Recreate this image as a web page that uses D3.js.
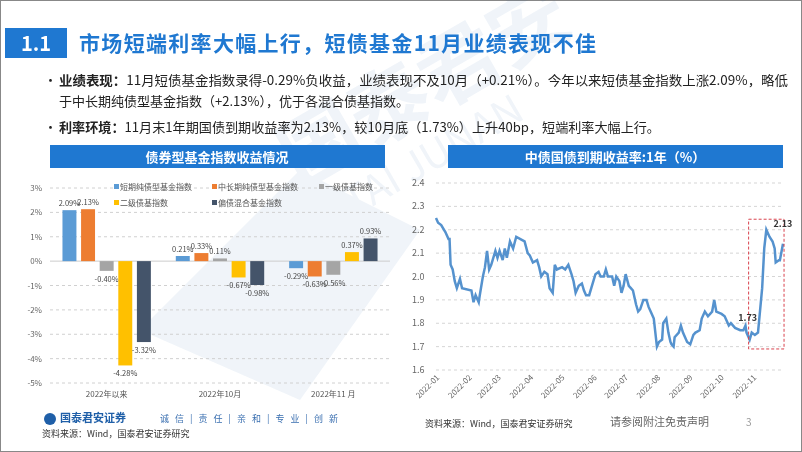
<!DOCTYPE html>
<html><head><meta charset="utf-8">
<script src="https://cdn.jsdelivr.net/npm/d3@7"></script>
<style>body{margin:0;background:#fff}svg{display:block;font-family:"Noto Sans CJK SC","Noto Sans",sans-serif}</style>
</head><body><svg id="c" width="802" height="452"></svg>
<script>
// ---- data ----
const barCategories = ["2022年以来","2022年10月","2022年11 月"];
const barSeries = ["短期纯债型基金指数","中长期纯债型基金指数","一级债基指数","二级债基指数","偏债混合基金指数"];
const barColors = ["#5B9BD5","#ED7D31","#A5A5A5","#FFC000","#44546A"];
const valShort = [2.09, 0.21, -0.29];
const valMidLong = [2.13, 0.33, -0.63];
const valFirst = [-0.40, 0.11, -0.56];
const valSecond = [-4.28, -0.67, 0.37];
const valMixed = [-3.32, -0.98, 0.93];
const barTicks = [3,2,1,0,-1,-2,-3,-4,-5];
const yieldDays = [0,2,5,9,12,13,14,16,18,20,23,25,34,36,38,41,42,45,47,49,51,53,57,59,61,64,66,68,71,74,77,81,85,88,90,93,97,99,101,104,107,109,112,114,116,121,124,127,130,132,134,137,140,142,144,147,149,153,156,158,161,163,165,169,171,173,176,178,180,182,185,187,189,192,194,196,199,202,204,206,209,212,214,217,218,221,223,225,226,228,229,233,235,237,241,244,247,249,253,255,258,261,265,267,269,274,277,281,283,287,292,295,297,298,301,303,306,309,313,315,317,320,323,325,326,329,330,333];
const yieldVals = [2.25,2.23,2.22,2.19,2.16,2.16,2.05,2.03,1.98,1.95,1.99,1.95,1.94,1.89,1.92,1.89,1.92,2.00,2.04,2.11,2.03,2.05,2.11,2.08,2.11,2.07,2.12,2.08,2.15,2.12,2.17,2.16,2.15,2.10,2.09,2.06,2.07,2.04,2.00,2.02,2.01,1.95,1.93,2.05,2.03,2.04,2.03,2.05,2.01,1.98,1.93,1.96,1.97,1.94,1.92,1.92,1.95,2.01,2.02,2.00,2.00,2.03,2.00,2.00,1.96,2.00,1.98,1.93,1.96,2.01,1.96,1.95,1.94,1.88,1.85,1.86,1.90,1.90,1.87,1.85,1.82,1.70,1.72,1.73,1.80,1.82,1.76,1.72,1.71,1.70,1.74,1.76,1.79,1.76,1.72,1.71,1.75,1.76,1.77,1.82,1.85,1.83,1.85,1.90,1.85,1.84,1.83,1.79,1.80,1.78,1.77,1.77,1.79,1.76,1.73,1.76,1.75,1.76,1.95,2.12,2.20,2.17,2.15,2.12,2.06,2.07,2.07,2.14];
const yieldTicks = [1.6,1.7,1.8,1.9,2.0,2.1,2.2,2.3,2.4];
const monthLabels = ["2022-01","2022-02","2022-03","2022-04","2022-05","2022-06","2022-07","2022-08","2022-09","2022-10","2022-11"];

const svg = d3.select("#c");
const blue = "#1F78D1";
svg.append("rect").attr("x",0.5).attr("y",0.5).attr("width",801).attr("height",451).attr("fill","#fff").attr("stroke","#888");
const wm = svg.append("g").attr("opacity",0.07).attr("fill","#1F5FA8");
wm.append("path").attr("d","M140,330 L300,170 L420,230 L300,400 Z");
wm.append("text").attr("x",300).attr("y",190).attr("font-size",80).attr("font-weight","bold").attr("transform","rotate(-30,300,190)").text("国泰君安");
wm.append("text").attr("x",280).attr("y",260).attr("font-size",40).attr("transform","rotate(-30,280,260)").text("GUOTAI JUNAN");

// header
svg.append("rect").attr("x",5).attr("y",28).attr("width",62).attr("height",30).attr("fill",blue);
svg.append("text").attr("x",36).attr("y",51).attr("text-anchor","middle").attr("fill","#fff").attr("font-size",20).attr("font-weight","bold").text("1.1");
svg.append("text").attr("x",79).attr("y",51).attr("fill",blue).attr("font-size",21).attr("font-weight","bold").attr("textLength",517).text("市场短端利率大幅上行，短债基金11月业绩表现不佳");
const bl = [
 {y:85,b:"业绩表现：",t:"11月短债基金指数录得-0.29%负收益，业绩表现不及10月（+0.21%）。今年以来短债基金指数上涨2.09%，略低",dot:true,len:729},
 {y:106,b:"",t:"于中长期纯债型基金指数（+2.13%），优于各混合债基指数。",dot:false,len:350},
 {y:132,b:"利率环境：",t:"11月末1年期国债到期收益率为2.13%，较10月底（1.73%）上升40bp，短端利率大幅上行。",dot:true,len:601}];
bl.forEach(d=>{
  if(d.dot) svg.append("text").attr("x",44).attr("y",d.y).attr("font-size",13).attr("fill","#222").text("•");
  const t=svg.append("text").attr("x",59).attr("y",d.y).attr("font-size",13).attr("fill","#222").attr("textLength",d.len).attr("lengthAdjust","spacingAndGlyphs");
  t.append("tspan").attr("font-weight","bold").text(d.b);
  t.append("tspan").text(d.t);
});

[[50,"债券型基金指数收益情况"],[448,"中债国债到期收益率:1年（%）"]].forEach(([x,s])=>{
  svg.append("rect").attr("x",x).attr("y",145).attr("width",335).attr("height",23).attr("fill",blue);
  svg.append("text").attr("x",x+167).attr("y",162).attr("text-anchor","middle").attr("fill","#fff").attr("font-size",13).attr("font-weight","bold").text(s);
});

// ---- bar chart ----
const allVals=[valShort,valMidLong,valFirst,valSecond,valMixed];
const yB = d3.scaleLinear().domain([-5,3]).range([383,188]);
const x0 = d3.scaleBand().domain(barCategories).range([50,390]).paddingInner(0.22).paddingOuter(0.11);
const x1 = d3.scaleBand().domain(barSeries).range([0,x0.bandwidth()]).paddingInner(0.25);
const gB=svg.append("g");
barTicks.forEach(t=>{
  if(t!==0) gB.append("line").attr("x1",50).attr("x2",390).attr("y1",yB(t)).attr("y2",yB(t)).attr("stroke","#d0d0d0").attr("stroke-dasharray","3,3");
  gB.append("text").attr("x",42).attr("y",yB(t)+3).attr("text-anchor","end").attr("font-size",8).attr("fill","#666").text(t+"%");
});
gB.append("line").attr("x1",50).attr("x2",390).attr("y1",yB(0)).attr("y2",yB(0)).attr("stroke","#ccc");
barSeries.forEach((s,si)=>{
  barCategories.forEach((c,ci)=>{
    const v=allVals[si][ci];
    const x=x0(c)+x1(s);
    gB.append("rect").attr("x",x).attr("width",x1.bandwidth()).attr("y",yB(Math.max(0,v))).attr("height",Math.abs(yB(v)-yB(0))).attr("fill",barColors[si]);
    gB.append("text").attr("x",x+x1.bandwidth()/2).attr("y",v>=0?yB(v)-4:yB(v)+11).attr("text-anchor","middle").attr("font-size",7.5).attr("fill","#444").text(v.toFixed(2)+"%");
  });
});
barCategories.forEach(c=>gB.append("text").attr("x",x0(c)+x0.bandwidth()/2).attr("y",397).attr("text-anchor","middle").attr("font-size",8).attr("fill","#555").text(c));
const legPos=[[120,190],[218,190],[325,190],[120,206],[218,206]];
barSeries.forEach((s,i)=>{
  gB.append("rect").attr("x",legPos[i][0]-6).attr("y",legPos[i][1]-6).attr("width",5).attr("height",5).attr("fill",barColors[i]);
  gB.append("text").attr("x",legPos[i][0]).attr("y",legPos[i][1]).attr("font-size",8).attr("fill","#555").text(s);
});

// ---- line chart ----
const base=new Date(2022,0,1);
const dt=d=>new Date(2022,0,1+d);
const xL=d3.scaleTime().domain([base,dt(333)]).range([436,783]);
const yL=d3.scaleLinear().domain([1.6,2.4]).range([370,183]);
const gL=svg.append("g");
yieldTicks.forEach(t=>{
  gL.append("line").attr("x1",436).attr("x2",783).attr("y1",yL(t)).attr("y2",yL(t)).attr("stroke","#d5d5d5").attr("stroke-dasharray","3,3");
  gL.append("text").attr("x",412).attr("y",yL(t)+3).attr("font-size",9).attr("fill","#666").text(t.toFixed(1));
});
monthLabels.forEach((m,i)=>{
  const x=xL(new Date(2022,i,1));
  gL.append("text").attr("transform",`translate(${x+4},${378}) rotate(-45)`).attr("text-anchor","end").attr("font-size",8).attr("fill","#666").text(m);
});
const pts=yieldDays.map((d,i)=>[dt(d),yieldVals[i]]);
gL.append("path").datum(pts).attr("fill","none").attr("stroke","#5592CE").attr("stroke-width",2.5).attr("d",d3.line().x(d=>xL(d[0])).y(d=>yL(d[1])));
gL.append("rect").attr("x",xL(dt(300))).attr("y",yL(2.245)).attr("width",xL(dt(334))-xL(dt(300))).attr("height",yL(1.69)-yL(2.245)).attr("fill","none").attr("stroke","#D9434E").attr("stroke-dasharray","3,2");
gL.append("text").attr("x",xL(dt(299))).attr("y",yL(1.8)-2).attr("text-anchor","middle").attr("font-size",9).attr("font-weight","bold").attr("fill","#333").text("1.73");
gL.append("text").attr("x",xL(dt(333))).attr("y",yL(2.2)-3).attr("text-anchor","middle").attr("font-size",9).attr("font-weight","bold").attr("fill","#333").text("2.13");

// footer
const ft=svg.append("g");
ft.append("circle").attr("cx",50).attr("cy",419).attr("r",6).attr("fill","#1F5FA8");
ft.append("text").attr("x",60).attr("y",422).attr("font-size",11).attr("font-weight","bold").attr("fill","#1F5FA8").text("国泰君安证券");
ft.append("text").attr("x",160).attr("y",422).attr("font-size",9).attr("fill","#3A6FB0").attr("letter-spacing",2).text("诚 信 | 责 任 | 亲 和 | 专 业 | 创 新");
ft.append("text").attr("x",42).attr("y",437).attr("font-size",9).attr("fill","#333").text("资料来源：Wind，国泰君安证券研究");
ft.append("text").attr("x",425).attr("y",427).attr("font-size",9).attr("fill","#333").text("资料来源：Wind，国泰君安证券研究");
ft.append("text").attr("x",610).attr("y",426).attr("font-size",11).attr("fill","#666").text("请参阅附注免责声明");
ft.append("text").attr("x",746).attr("y",426).attr("font-size",10).attr("fill","#999").text("3");
</script></body></html>
